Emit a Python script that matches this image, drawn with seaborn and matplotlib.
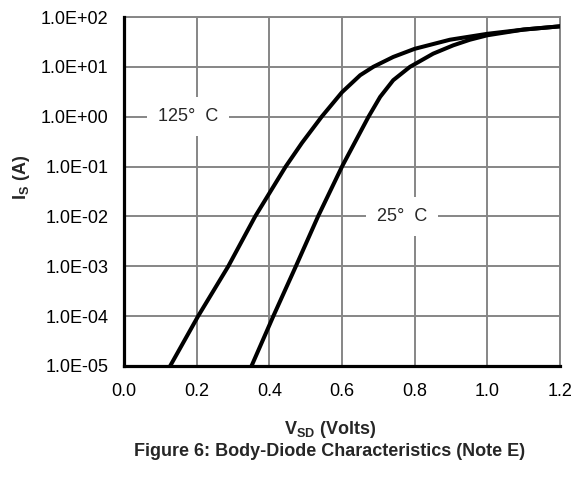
import matplotlib
matplotlib.use("Agg")
import matplotlib.pyplot as plt
import seaborn as sns
import pandas as pd
from matplotlib.ticker import FuncFormatter, FixedLocator

# Data
v_125 = [0.127, 0.204, 0.287, 0.361, 0.445, 0.49, 0.544, 0.60, 0.65, 0.686, 0.741, 0.80, 0.897, 1.00, 1.10, 1.20]
i_125 = [1e-5, 1e-4, 1e-3, 1e-2, 1e-1, 0.30, 1.0, 3.1, 6.8, 10.0, 15.8, 23.0, 35.0, 46.0, 56.0, 65.0]
v_25 = [0.351, 0.411, 0.473, 0.534, 0.600, 0.673, 0.705, 0.741, 0.787, 0.851, 0.906, 0.952, 1.00, 1.10, 1.20]
i_25 = [1e-5, 1e-4, 1e-3, 1e-2, 1e-1, 1.0, 2.5, 5.4, 10.0, 18.4, 27.0, 35.0, 43.0, 56.0, 65.0]
x_ticks = [0.0, 0.2, 0.4, 0.6, 0.8, 1.0, 1.2]
y_ticks = [1e-5, 1e-4, 1e-3, 1e-2, 1e-1, 1e0, 1e1, 1e2]

df = pd.concat([
    pd.DataFrame({"V": v_125, "I": i_125, "T": "125"}),
    pd.DataFrame({"V": v_25, "I": i_25, "T": "25"}),
])

sns.set_style("white")
plt.rcParams["font.family"] = ["Liberation Sans", "DejaVu Sans"]
plt.rcParams["mathtext.fontset"] = "custom"
plt.rcParams["mathtext.rm"] = "Liberation Sans"
plt.rcParams["mathtext.bf"] = "Liberation Sans:bold"

FS = 13
fig = plt.figure(figsize=(5.79, 4.82), dpi=100)
ax = fig.add_axes([124/579, 1-366/482, (560-124)/579, (366-17)/482])

ax.set_yscale("log")
sns.lineplot(data=df, x="V", y="I", units="T", estimator=None, color="black",
             linewidth=2.9, ax=ax, sort=False, legend=False, zorder=3,
             solid_joinstyle="round")

ax.set_xlim(0, 1.2)
ax.set_ylim(1e-5, 1e2)
ax.xaxis.set_major_locator(FixedLocator(x_ticks))
ax.yaxis.set_major_locator(FixedLocator(y_ticks))
ax.yaxis.set_minor_locator(FixedLocator([]))
ax.xaxis.set_major_formatter(FuncFormatter(lambda v, p: f"{v:.1f}"))
ax.yaxis.set_major_formatter(FuncFormatter(lambda v, p: f"{v:.1E}"))
ax.tick_params(axis="both", length=0, labelsize=FS, colors="black")
ax.tick_params(axis="x", pad=12)
ax.tick_params(axis="y", pad=11)

ax.grid(True, which="major", color="#868686", linewidth=1.4, zorder=1)
ax.set_axisbelow(True)
for s in ["top", "right"]:
    ax.spines[s].set_color("#868686")
    ax.spines[s].set_linewidth(1.4)
for s in ["left", "bottom"]:
    ax.spines[s].set_color("black")
    ax.spines[s].set_linewidth(2.3)
    ax.spines[s].set_zorder(4)

ax.set_xlabel("")
ax.set_ylabel("")

ax.text(0.176, 1.0, "125°  C", fontsize=FS, ha="center", va="center", zorder=5,
        bbox=dict(facecolor="white", edgecolor="none", boxstyle="square,pad=0.6"))
ax.text(0.765, 1e-2, "25°  C", fontsize=FS, ha="center", va="center", zorder=5,
        bbox=dict(facecolor="white", edgecolor="none", boxstyle="square,pad=0.6"))

fig.text(22/579, 1-177/482, r"$\mathbf{I_S}$" + " (A)", rotation=90, ha="center", va="center",
         fontsize=FS, fontweight="bold")
fig.text(330/579, 1-430/482, r"$\mathbf{V_{SD}}$" + " (Volts)", ha="center", va="center",
         fontsize=FS, fontweight="bold")
fig.text(330/579, 1-452/482, "Figure 6: Body-Diode Characteristics (Note E)", ha="center",
         va="center", fontsize=FS, fontweight="bold")

fig.savefig("out.png", dpi=100)
